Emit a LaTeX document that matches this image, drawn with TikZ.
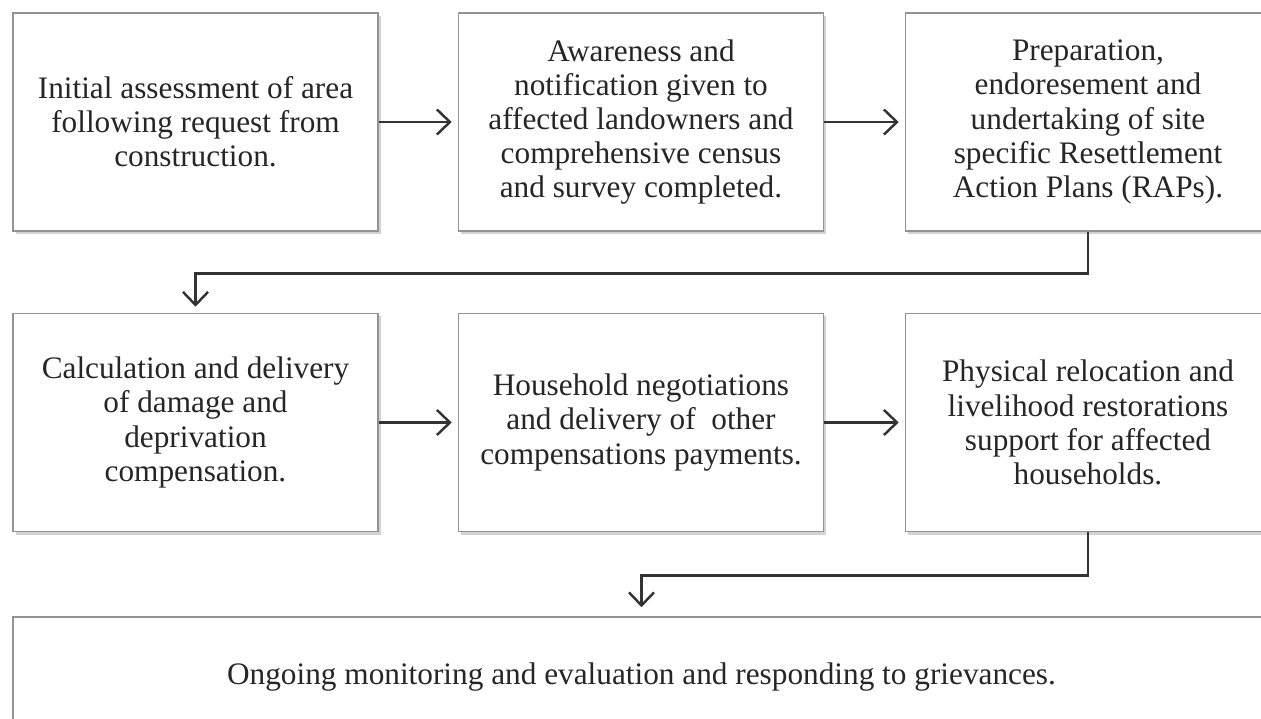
\documentclass[tikz,border=0pt]{standalone}
\usepackage{fontspec}
\setmainfont{Liberation Serif}
\usetikzlibrary{arrows.meta,shadows}

\begin{document}
\begin{tikzpicture}[
   stage/.style={draw=gray!85, line width=0.9pt, fill=white, minimum width=7.3cm,
      minimum height=4.36cm, align=center, text=black!85,
      font=\fontsize{17.8}{19.4}\selectfont,
      drop shadow={shadow xshift=0.05cm, shadow yshift=-0.06cm, opacity=0.35}},
   link/.style={draw=black!80, line width=1.6pt,
      -{Straight Barb[length=0.26cm,width=0.5cm,line width=1.4pt]}}
  ]
   \useasboundingbox (0,0) rectangle (25.22,-14.38);
   \clip (0,0) rectangle (25.22,-14.38);
   \node[stage] (a) at (3.91,-2.44) {Initial assessment of area\\following request from\\construction.};
   \node[stage] (b) at (12.82,-2.44) {Awareness and\\notification given to\\affected landowners and\\comprehensive census\\and survey completed.};
   \node[stage] (c) at (21.76,-2.44) {Preparation,\\endoresement and\\undertaking of site\\specific Resettlement\\Action Plans (RAPs).};
   \node[stage] (d) at (3.91,-8.45) {Calculation and delivery\\of damage and\\deprivation\\compensation.};
   \node[stage] (e) at (12.82,-8.45) {Household negotiations\\and delivery of\ \ other\\compensations payments.};
   \node[stage] (f) at (21.76,-8.45) {Physical relocation and\\livelihood restorations\\support for affected\\households.};
   \node[stage, minimum width=25.14cm, minimum height=2.4cm] (g) at (12.83,-13.54) {Ongoing monitoring and evaluation and responding to grievances.};
   \draw[link, shorten >=0.12cm] (a) -- (b);
   \draw[link, shorten >=0.12cm] (b) -- (c);
   \draw[link, shorten >=0.12cm] (d) -- (e);
   \draw[link, shorten >=0.12cm] (e) -- (f);
   \draw[link, shorten >=0.12cm] (c.south) -- ++(0,-0.84) -| (d.north);
   \draw[link, shorten >=0.18cm] (f.south) -- ++(0,-0.86) -| (g.north);
  \end{tikzpicture}
\end{document}
